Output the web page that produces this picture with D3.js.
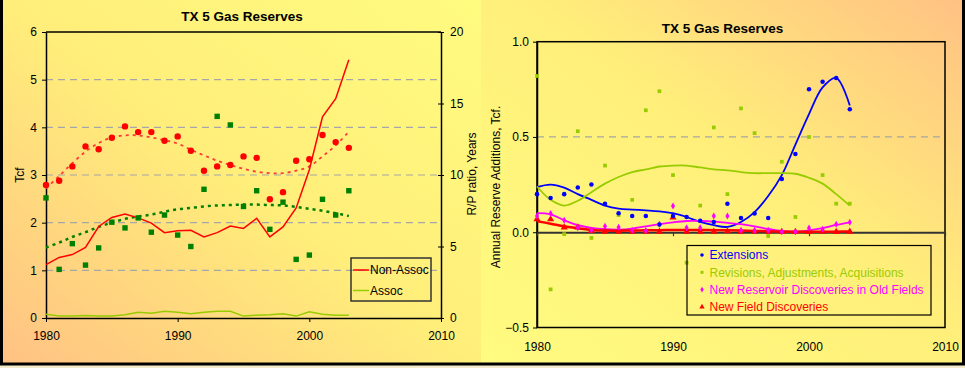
<!DOCTYPE html>
<html>
<head>
<meta charset="utf-8">
<script src="https://cdn.jsdelivr.net/npm/d3@7"></script>
<style>
  body { margin: 0; background: #fff; }
  svg { display: block; font-family: "Liberation Sans", Arial, sans-serif; }
</style>
</head>
<body>
<div class="graph"></div>
<script>
// ---- data ----
const years = [1980, 1981, 1982, 1983, 1984, 1985, 1986, 1987, 1988, 1989, 1990, 1991,
               1992, 1993, 1994, 1995, 1996, 1997, 1998, 1999, 2000, 2001, 2002, 2003];

// left chart, Tcf
const nonAssoc = [1.12, 1.27, 1.33, 1.48, 1.92, 2.11, 2.18, 2.10, 1.99, 1.79, 1.83, 1.84,
                  1.70, 1.79, 1.93, 1.88, 2.09, 1.70, 1.91, 2.31, 3.11, 4.22, 4.60, 5.42];
const assoc = [0.08, 0.04, 0.04, 0.05, 0.04, 0.04, 0.07, 0.12, 0.10, 0.14, 0.12, 0.09,
               0.12, 0.14, 0.14, 0.04, 0.06, 0.07, 0.09, 0.04, 0.13, 0.08, 0.06, 0.06];
// left chart, R/P ratio in years
const rpNonAssoc = [9.3, 9.6, 10.6, 12.0, 11.8, 12.6, 13.4, 13.0, 13.0, 12.4, 12.7, 11.7,
                    10.3, 10.6, 10.7, 11.3, 11.2, 8.3, 8.8, 11.0, 11.1, 12.8, 12.3, 11.9];
const rpAssoc = [8.4, 3.4, 5.2, 3.7, 4.9, 6.7, 6.3, 7.0, 6.0, 7.2, 5.8, 5.0,
                 9.0, 14.1, 13.5, 7.8, 8.9, 6.2, 8.1, 4.1, 4.4, 8.3, 7.2, 8.9];
const rpNonAssocTrend = [9.07, 9.93, 10.83, 11.63, 12.23, 12.63, 12.77, 12.77, 12.63, 12.43, 12.2, 11.77,
                         11.37, 11.0, 10.7, 10.43, 10.23, 10.13, 10.13, 10.3, 10.6, 11.3, 12.07, 13.03];
const rpAssocTrend = [4.93, 5.27, 5.67, 6.0, 6.37, 6.67, 6.93, 7.1, 7.23, 7.43, 7.6, 7.7,
                      7.8, 7.87, 7.9, 7.93, 7.93, 7.9, 7.87, 7.77, 7.63, 7.5, 7.33, 7.13];

// right chart, annual additions, Tcf
const extensions = [0.20, 0.18, 0.20, 0.235, 0.25, 0.15, 0.10, 0.085, 0.085, 0.04, 0.085, 0.08,
                    0.06, 0.054, 0.15, 0.075, 0.098, 0.075, 0.28, 0.41, 0.75, 0.79, 0.81, 0.645];
const revisions = [0.82, -0.30, -0.01, 0.53, -0.03, 0.35, 0.09, 0.17, 0.64, 0.74, 0.30, -0.16,
                   0.14, 0.55, 0.20, 0.65, 0.52, -0.02, 0.37, 0.08, 0.50, 0.30, 0.15, 0.15];
const newReservoir = [0.085, 0.098, 0.063, 0.023, 0.01, 0.031, 0.026, 0.01, 0.008, 0.042, 0.138, 0.023,
                      0.023, 0.085, 0.085, 0.01, 0.01, 0.01, 0.002, 0.002, 0.022, 0.016, 0.042, 0.052];
const newField = [0.068, 0.068, 0.025, 0.025, 0.007, 0.003, 0.003, 0.003, 0.003, 0.003, 0.077, 0.003,
                  0.003, 0.003, 0.005, 0.003, 0.003, 0.003, 0.002, 0.002, 0.002, 0.003, 0.002, 0.003];
const extTrend = [0.237, 0.25, 0.234, 0.20, 0.17, 0.14, 0.124, 0.119, 0.115, 0.11, 0.10, 0.08,
                  0.054, 0.037, 0.028, 0.054, 0.106, 0.19, 0.30, 0.46, 0.62, 0.76, 0.81, 0.665];
const revTrend = [0.24, 0.17, 0.14, 0.165, 0.21, 0.255, 0.29, 0.316, 0.33, 0.345, 0.35, 0.35,
                  0.34, 0.33, 0.325, 0.316, 0.31, 0.31, 0.31, 0.307, 0.286, 0.255, 0.20, 0.14];
const resTrend = [0.10, 0.094, 0.063, 0.037, 0.023, 0.016, 0.014, 0.019, 0.031, 0.042, 0.052, 0.059,
                  0.059, 0.056, 0.049, 0.042, 0.031, 0.017, 0.007, 0.003, 0.01, 0.021, 0.038, 0.052];
const fieldTrend = [0.058, 0.045, 0.031, 0.021, 0.012, 0.009, 0.008, 0.009, 0.010, 0.011, 0.012, 0.012,
                    0.012, 0.011, 0.010, 0.009, 0.007, 0.005, 0.003, 0.002, 0.002, 0.002, 0.003, 0.004];

const xTicks = [1980, 1990, 2000, 2010];
const tcfTicks = [0, 1, 2, 3, 4, 5, 6];
const rpTicks = [0, 5, 10, 15, 20];
const addTicks = [-0.5, 0, 0.5, 1.0];

const width = 965,
      height = 368;

const svg = d3.select(".graph")
  .append("svg")
  .attr("width", width)
  .attr("height", height);

// backgrounds
const defs = svg.append("defs");
const gl = defs.append("linearGradient").attr("id", "bgLeft")
  .attr("x1", 0).attr("y1", 1).attr("x2", 1).attr("y2", 0);
gl.append("stop").attr("offset", "0%").attr("stop-color", "#FFC184");
gl.append("stop").attr("offset", "50%").attr("stop-color", "#FFEE7A");
gl.append("stop").attr("offset", "100%").attr("stop-color", "#FFFC80");
const gr = defs.append("linearGradient").attr("id", "bgRight")
  .attr("x1", 1).attr("y1", 0).attr("x2", 0).attr("y2", 1);
gr.append("stop").attr("offset", "0%").attr("stop-color", "#FFC184");
gr.append("stop").attr("offset", "45%").attr("stop-color", "#FFEF7A");
gr.append("stop").attr("offset", "100%").attr("stop-color", "#FFFC80");

svg.append("rect").attr("x", 0).attr("y", 0).attr("width", 481).attr("height", height)
  .attr("fill", "url(#bgLeft)");
svg.append("rect").attr("x", 481).attr("y", 0).attr("width", width - 481).attr("height", height)
  .attr("fill", "url(#bgRight)");
svg.append("rect").attr("x", 0).attr("y", 365).attr("width", width).attr("height", 3)
  .attr("fill", "#F3EBCB");
svg.append("rect").attr("x", 1.5).attr("y", -3).attr("width", 962).attr("height", 367)
  .attr("fill", "none").attr("stroke", "#000").attr("stroke-width", 3);

function styleAxis(g, size) {
  g.selectAll("text").attr("font-size", size).attr("fill", "#000")
    .attr("font-family", '"Liberation Sans", Arial, sans-serif');
  g.selectAll("line").attr("stroke", "#000");
}

// ================= left chart =================
const x = d3.scaleLinear().domain([1980, 2010]).range([46, 441]);
const yL = d3.scaleLinear().domain([0, 6]).range([318, 32]);
const yR = d3.scaleLinear().domain([0, 20]).range([318, 32]);

// grid
svg.append("g").selectAll("line")
  .data(tcfTicks.filter(d => d > 0 && d < 6))
  .enter().append("line")
  .attr("x1", x(1980)).attr("x2", x(2010))
  .attr("y1", d => yL(d)).attr("y2", d => yL(d))
  .attr("stroke", "#A6A6A6").attr("stroke-width", 1.2)
  .attr("stroke-dasharray", "7,5");

svg.append("line").attr("x1", x(1980)).attr("x2", x(2010))
  .attr("y1", yL(6)).attr("y2", yL(6)).attr("stroke", "#000").attr("stroke-width", 1.5);

svg.append("g")
  .attr("transform", `translate(${x(1980)},0)`)
  .call(d3.axisLeft(yL).tickValues(tcfTicks).tickFormat(d3.format("d")).tickSizeInner(4).tickSizeOuter(0).tickPadding(5))
  .call(g => { styleAxis(g, 12); g.select(".domain").attr("stroke", "#000").attr("stroke-width", 1.5); });

svg.append("g")
  .attr("transform", `translate(${x(2010)},0)`)
  .call(d3.axisRight(yR).tickValues(rpTicks).tickFormat(d3.format("d")).tickSizeInner(3).tickSizeOuter(0).tickPadding(6))
  .call(g => {
    styleAxis(g, 12);
    g.select(".domain").attr("stroke", "#000").attr("stroke-width", 1.5);
    g.selectAll(".tick line").attr("x1", -3);
  });

svg.append("g")
  .attr("transform", `translate(0,${yL(0)})`)
  .call(d3.axisBottom(x).tickValues(xTicks).tickFormat(d3.format("d")).tickSizeInner(4).tickSizeOuter(0).tickPadding(9))
  .call(g => { styleAxis(g, 12); g.select(".domain").attr("stroke", "#000").attr("stroke-width", 1.5); });

// titles
svg.append("text").attr("x", 242).attr("y", 21).attr("text-anchor", "middle")
  .attr("font-size", 13.5).attr("font-weight", "bold").text("TX 5 Gas Reserves");
svg.append("text").attr("transform", `translate(24,175) rotate(-90)`).attr("text-anchor", "middle")
  .attr("font-size", 12).text("Tcf");
svg.append("text").attr("transform", `translate(476,174) rotate(-90)`).attr("text-anchor", "middle")
  .attr("font-size", 12).text("R/P ratio, Years");

// trend lines (dotted)
const trendR = d3.line().x((d, i) => x(years[i])).y(d => yR(d)).curve(d3.curveCatmullRom.alpha(0.5));
svg.append("path").datum(rpNonAssocTrend).attr("d", trendR)
  .attr("fill", "none").attr("stroke", "#FF3A3A").attr("stroke-width", 1.8).attr("stroke-dasharray", "3,4");
svg.append("path").datum(rpAssocTrend).attr("d", trendR)
  .attr("fill", "none").attr("stroke", "#008000").attr("stroke-width", 2.5).attr("stroke-dasharray", "3,4");

// lines
const lineL = d3.line().x((d, i) => x(years[i])).y(d => yL(d));
svg.append("path").datum(nonAssoc).attr("d", lineL)
  .attr("fill", "none").attr("stroke", "#FF0000").attr("stroke-width", 1.5);
svg.append("path").datum(assoc).attr("d", lineL)
  .attr("fill", "none").attr("stroke", "#99CC00").attr("stroke-width", 1.5);

// markers
svg.append("g").selectAll("circle")
  .data(rpNonAssoc).enter().append("circle")
  .attr("cx", (d, i) => x(years[i])).attr("cy", d => yR(d)).attr("r", 3.2)
  .attr("fill", "#FF0000");
svg.append("g").selectAll("rect")
  .data(rpAssoc).enter().append("rect")
  .attr("x", (d, i) => x(years[i]) - 2.7).attr("y", d => yR(d) - 2.7)
  .attr("width", 5.4).attr("height", 5.4)
  .attr("fill", "#008000");

// legend
const legL = svg.append("g").attr("transform", "translate(351,258)");
legL.append("rect").attr("width", 80).attr("height", 43)
  .attr("fill", "none").attr("stroke", "#333").attr("stroke-width", 1.5);
[["Non-Assoc", "#FF0000"], ["Assoc", "#99CC00"]].forEach(([label, c], i) => {
  const yy = 12 + i * 20.5;
  legL.append("line").attr("x1", 2).attr("x2", 18).attr("y1", yy).attr("y2", yy)
    .attr("stroke", c).attr("stroke-width", 1.5);
  legL.append("text").attr("x", 19).attr("y", yy + 4.3).attr("font-size", 12).text(label);
});

// ================= right chart =================
const x2 = d3.scaleLinear().domain([1980, 2010]).range([537, 945]);
const y2 = d3.scaleLinear().domain([-0.5, 1.0]).range([327.5, 41.7]);

svg.append("line").attr("x1", x2(1980)).attr("x2", x2(2010))
  .attr("y1", y2(0.5)).attr("y2", y2(0.5))
  .attr("stroke", "#A6A6A6").attr("stroke-width", 1.2).attr("stroke-dasharray", "7,5");

svg.append("rect").attr("x", x2(1980)).attr("y", y2(1.0))
  .attr("width", x2(2010) - x2(1980)).attr("height", y2(-0.5) - y2(1.0))
  .attr("fill", "none").attr("stroke", "#000").attr("stroke-width", 1.5);

svg.append("g")
  .attr("transform", `translate(${x2(1980)},0)`)
  .call(d3.axisLeft(y2).tickValues(addTicks).tickFormat(d3.format(".1f")).tickSizeInner(4).tickSizeOuter(0).tickPadding(4))
  .call(g => { styleAxis(g, 12); g.select(".domain").attr("stroke", "#000").attr("stroke-width", 1.5); });

svg.append("g")
  .attr("transform", `translate(0,${y2(-0.5)})`)
  .call(d3.axisBottom(x2).tickValues(xTicks).tickFormat(d3.format("d")).tickSize(0).tickPadding(15))
  .call(g => { styleAxis(g, 12); g.select(".domain").remove(); });

svg.append("g")
  .attr("transform", `translate(0,${y2(0)})`)
  .call(d3.axisBottom(x2).tickValues(xTicks).tickFormat("").tickSizeInner(4).tickSizeOuter(0))
  .call(g => {
    g.select(".domain").attr("stroke", "#333").attr("stroke-width", 2.2);
    g.selectAll(".tick line").attr("stroke", "#333").attr("stroke-width", 1.2);
  });

svg.append("text").attr("x", 722.5).attr("y", 33).attr("text-anchor", "middle")
  .attr("font-size", 13.5).attr("font-weight", "bold").text("TX 5 Gas Reserves");
svg.append("text").attr("transform", `translate(500,187) rotate(-90)`).attr("text-anchor", "middle")
  .attr("font-size", 12).text("Annual Reserve Additions, Tcf.");

const trend2 = d3.line().x((d, i) => x2(years[i])).y(d => y2(d)).curve(d3.curveCatmullRom.alpha(0.5));
const series2 = [
  { label: "Extensions", values: extensions, trend: extTrend, color: "#0000FF", symbol: d3.symbolCircle, size: 16, leg: 10, w: 1.8 },
  { label: "Revisions, Adjustments, Acquisitions", values: revisions, trend: revTrend, color: "#99CC00", symbol: d3.symbolSquare, size: 14, leg: 9, w: 1.8 },
  { label: "New Reservoir Discoveries in Old Fields", values: newReservoir, trend: resTrend, color: "#FF00FF", symbol: d3.symbolDiamond, size: 14, leg: 10, w: 1.8 },
  { label: "New Field Discoveries", values: newField, trend: fieldTrend, color: "#FF0000", symbol: d3.symbolTriangle, size: 22, leg: 12, w: 2.5 }
];

series2.forEach(s => {
  svg.append("path").datum(s.trend).attr("d", trend2)
    .attr("fill", "none").attr("stroke", s.color).attr("stroke-width", s.w);
});
series2.slice().reverse().forEach(s => {
  svg.append("g").selectAll("path")
    .data(s.values).enter().append("path")
    .attr("d", d3.symbol().type(s.symbol).size(s.size))
    .attr("transform", (d, i) => `translate(${x2(years[i])},${y2(d)})`)
    .attr("fill", s.color);
});

const legR = svg.append("g").attr("transform", "translate(687,245.5)");
legR.append("rect").attr("width", 244).attr("height", 69.5)
  .attr("fill", "none").attr("stroke", "#000").attr("stroke-width", 1.2);
series2.forEach((s, i) => {
  const yy = 9.5 + i * 17.3;
  legR.append("path").attr("d", d3.symbol().type(s.symbol).size(s.leg))
    .attr("transform", `translate(15,${yy})`).attr("fill", s.color);
  legR.append("text").attr("x", 22.5).attr("y", yy + 4.3).attr("font-size", 12)
    .attr("fill", s.color).text(s.label);
});
</script>
</body>
</html>
